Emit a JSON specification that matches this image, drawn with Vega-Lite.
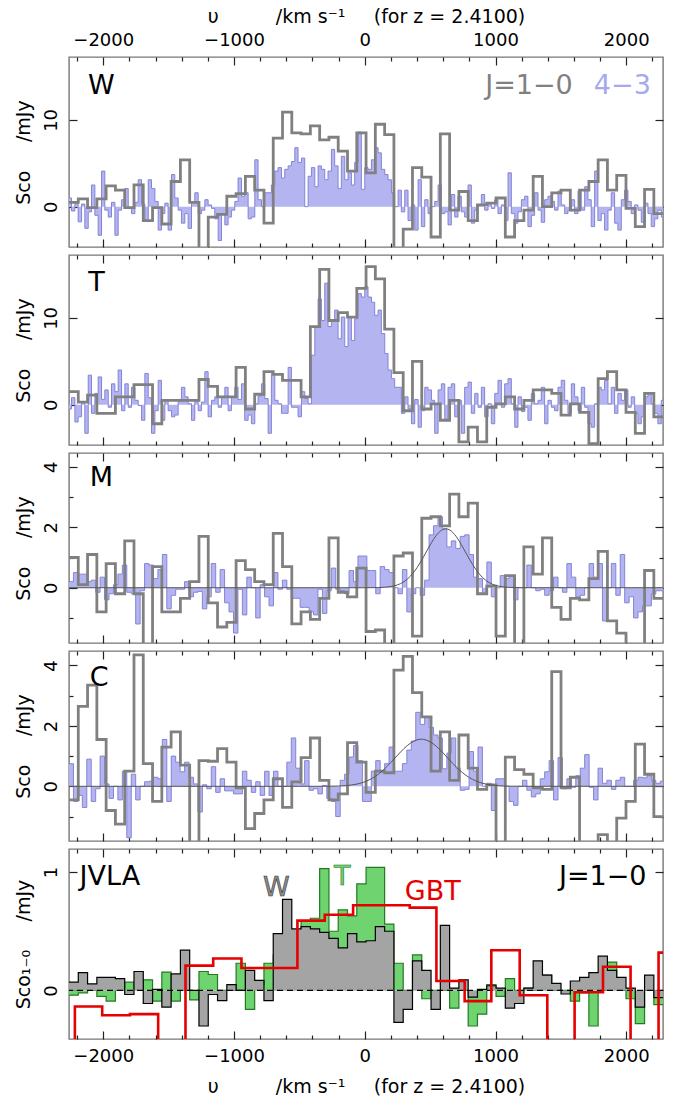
{
"$schema":"https://vega.github.io/schema/vega-lite/v6.json",
"padding":{"left":13,"top":6,"right":10,"bottom":2},
"config":{"view":{"stroke":"#777777","strokeWidth":1.4},"font":"DejaVu Sans","axis":{"domain":false,"grid":false,"tickColor":"#222222","tickWidth":1.2,"labelFont":"DejaVu Sans","labelFontSize":18,"labelColor":"#000000","titleFont":"DejaVu Sans","titleFontSize":19,"titleFontWeight":"normal","titleColor":"#000000","minExtent":0,"labelFlush":false,"labelOverlap":false,"zindex":1}},
"spacing":4,
"vconcat":[
{"width":594,"height":190,"resolve":{"axis":{"x":"independent","y":"independent"}},
"layer":[
{"data":{"name":"b1"},"mark":{"type":"area","interpolate":"step-after","color":"#b4b4f0","clip":true},
"encoding":{"x":{"field":"v","type":"quantitative","scale":{"domain":[-2262,2281],"nice":false,"zero":false},"axis":{"orient":"bottom","values":[-2000,-1000,0,1000,2000],"tickSize":-8,"labels":false,"title":null}},
"y":{"field":"W","type":"quantitative","scale":{"domain":[-4.65,17.25],"nice":false,"zero":false},"axis":{"orient":"left","values":[0,10],"tickSize":-8,"labelAngle":-90,"labelAlign":"center","labelBaseline":"bottom","labelPadding":17,"title":"Sᴄᴏ\u2003\u2002/mJy","titlePadding":9}},"y2":{"datum":0}}},
{"data":{"name":"b1"},"mark":{"type":"line","interpolate":"step-after","color":"#8484d6","strokeWidth":1,"clip":true},
"encoding":{"x":{"field":"v","type":"quantitative","scale":{"domain":[-2262,2281],"nice":false,"zero":false},"axis":{"orient":"top","values":[-2000,-1000,0,1000,2000],"tickSize":-8,"format":"d","labelPadding":16,"title":"υ\u2003\u2003\u2003/km s⁻¹\u2003\u2002(for z = 2.4100)","titlePadding":5}},
"y":{"field":"W","type":"quantitative","scale":{"domain":[-4.65,17.25],"nice":false,"zero":false},"axis":{"orient":"right","values":[0,10],"tickSize":-8,"labels":false,"title":null}}}},
{"data":{"name":"g"},"mark":{"type":"line","interpolate":"step-after","color":"#808080","strokeWidth":2.8,"clip":true},
"encoding":{"x":{"field":"v","type":"quantitative","scale":{"domain":[-2262,2281],"nice":false,"zero":false},"axis":{"orient":"bottom","values":[-2200,-1800,-1600,-1400,-1200,-800,-600,-400,-200,200,400,600,800,1200,1400,1600,1800,2200],"tickSize":-4,"labels":false,"title":null}},
"y":{"field":"W","type":"quantitative","scale":{"domain":[-4.65,17.25],"nice":false,"zero":false},"axis":null}}},
{"data":{"values":[{}]},"mark":{"type":"text","align":"left","baseline":"alphabetic","fontSize":27,"color":"#000000"},
"encoding":{"x":{"datum":-2116,"type":"quantitative","scale":{"domain":[-2262,2281],"nice":false,"zero":false},"axis":{"orient":"top","values":[-2200,-1800,-1600,-1400,-1200,-800,-600,-400,-200,200,400,600,800,1200,1400,1600,1800,2200],"tickSize":-4,"labels":false,"title":null}},
"y":{"datum":13.0,"type":"quantitative","scale":{"domain":[-4.65,17.25],"nice":false,"zero":false},"axis":null},"text":{"value":"W"}}},
{"data":{"values":[{}]},"mark":{"type":"text","align":"right","baseline":"alphabetic","fontSize":27,"color":"#808080"},
"encoding":{"x":{"datum":1591,"type":"quantitative","axis":null},"y":{"datum":13.0,"type":"quantitative","axis":null},"text":{"value":"J=1−0"}}},
{"data":{"values":[{}]},"mark":{"type":"text","align":"left","baseline":"alphabetic","fontSize":27,"color":"#a8a8f0"},
"encoding":{"x":{"datum":1752,"type":"quantitative","axis":null},"y":{"datum":13.0,"type":"quantitative","axis":null},"text":{"value":"4−3"}}}
]},
{"width":594,"height":190,"resolve":{"axis":{"x":"independent","y":"independent"}},
"layer":[
{"data":{"name":"b1"},"mark":{"type":"area","interpolate":"step-after","color":"#b4b4f0","clip":true},
"encoding":{"x":{"field":"v","type":"quantitative","scale":{"domain":[-2262,2281],"nice":false,"zero":false},"axis":{"orient":"bottom","values":[-2000,-1000,0,1000,2000],"tickSize":-8,"labels":false,"title":null}},
"y":{"field":"T","type":"quantitative","scale":{"domain":[-4.65,17.25],"nice":false,"zero":false},"axis":{"orient":"left","values":[0,10],"tickSize":-8,"labelAngle":-90,"labelAlign":"center","labelBaseline":"bottom","labelPadding":17,"title":"Sᴄᴏ\u2003\u2002/mJy","titlePadding":9}},"y2":{"datum":0}}},
{"data":{"name":"b1"},"mark":{"type":"line","interpolate":"step-after","color":"#8484d6","strokeWidth":1,"clip":true},
"encoding":{"x":{"field":"v","type":"quantitative","scale":{"domain":[-2262,2281],"nice":false,"zero":false},"axis":{"orient":"top","values":[-2000,-1000,0,1000,2000],"tickSize":-8,"labels":false,"title":null}},
"y":{"field":"T","type":"quantitative","scale":{"domain":[-4.65,17.25],"nice":false,"zero":false},"axis":{"orient":"right","values":[0,10],"tickSize":-8,"labels":false,"title":null}}}},
{"data":{"name":"g"},"mark":{"type":"line","interpolate":"step-after","color":"#808080","strokeWidth":2.8,"clip":true},
"encoding":{"x":{"field":"v","type":"quantitative","scale":{"domain":[-2262,2281],"nice":false,"zero":false},"axis":{"orient":"bottom","values":[-2200,-1800,-1600,-1400,-1200,-800,-600,-400,-200,200,400,600,800,1200,1400,1600,1800,2200],"tickSize":-4,"labels":false,"title":null}},
"y":{"field":"T","type":"quantitative","scale":{"domain":[-4.65,17.25],"nice":false,"zero":false},"axis":null}}},
{"data":{"values":[{}]},"mark":{"type":"text","align":"left","baseline":"alphabetic","fontSize":27,"color":"#000000"},
"encoding":{"x":{"datum":-2114,"type":"quantitative","scale":{"domain":[-2262,2281],"nice":false,"zero":false},"axis":{"orient":"top","values":[-2200,-1800,-1600,-1400,-1200,-800,-600,-400,-200,200,400,600,800,1200,1400,1600,1800,2200],"tickSize":-4,"labels":false,"title":null}},
"y":{"datum":13.15,"type":"quantitative","scale":{"domain":[-4.65,17.25],"nice":false,"zero":false},"axis":null},"text":{"value":"T"}}}
]},
{"width":594,"height":190,"resolve":{"axis":{"x":"independent","y":"independent"}},
"layer":[
{"data":{"name":"b2"},"mark":{"type":"area","interpolate":"step-after","color":"#b4b4f0","clip":true},
"encoding":{"x":{"field":"v","type":"quantitative","scale":{"domain":[-2262,2281],"nice":false,"zero":false},"axis":{"orient":"bottom","values":[-2000,-1000,0,1000,2000],"tickSize":-8,"labels":false,"title":null}},
"y":{"field":"M","type":"quantitative","scale":{"domain":[-1.83,4.46],"nice":false,"zero":false},"axis":{"orient":"left","values":[0,2,4],"tickSize":-8,"labelAngle":-90,"labelAlign":"center","labelBaseline":"bottom","labelPadding":17,"title":"Sᴄᴏ\u2003\u2002/mJy","titlePadding":9}},"y2":{"datum":0}}},
{"data":{"name":"b2"},"mark":{"type":"line","interpolate":"step-after","color":"#8484d6","strokeWidth":1,"clip":true},
"encoding":{"x":{"field":"v","type":"quantitative","scale":{"domain":[-2262,2281],"nice":false,"zero":false},"axis":{"orient":"top","values":[-2000,-1000,0,1000,2000],"tickSize":-8,"labels":false,"title":null}},
"y":{"field":"M","type":"quantitative","scale":{"domain":[-1.83,4.46],"nice":false,"zero":false},"axis":{"orient":"right","values":[0,2,4],"tickSize":-8,"labels":false,"title":null}}}},
{"data":{"name":"g"},"mark":{"type":"line","interpolate":"step-after","color":"#808080","strokeWidth":2.8,"clip":true},
"encoding":{"x":{"field":"v","type":"quantitative","scale":{"domain":[-2262,2281],"nice":false,"zero":false},"axis":{"orient":"bottom","values":[-2200,-1800,-1600,-1400,-1200,-800,-600,-400,-200,200,400,600,800,1200,1400,1600,1800,2200],"tickSize":-4,"labels":false,"title":null}},
"y":{"field":"M","type":"quantitative","scale":{"domain":[-1.83,4.46],"nice":false,"zero":false},"axis":{"orient":"left","values":[-1,1,3],"tickSize":-4,"labels":false,"title":null}}}},
{"data":{"name":"gm"},"mark":{"type":"line","interpolate":"monotone","color":"#555555","strokeWidth":1,"clip":true},
"encoding":{"x":{"field":"v","type":"quantitative","scale":{"domain":[-2262,2281],"nice":false,"zero":false},"axis":{"orient":"top","values":[-2200,-1800,-1600,-1400,-1200,-800,-600,-400,-200,200,400,600,800,1200,1400,1600,1800,2200],"tickSize":-4,"labels":false,"title":null}},
"y":{"field":"y","type":"quantitative","scale":{"domain":[-1.83,4.46],"nice":false,"zero":false},"axis":{"orient":"right","values":[-1,1,3],"tickSize":-4,"labels":false,"title":null}}}},
{"data":{"values":[{}]},"mark":{"type":"text","align":"left","baseline":"alphabetic","fontSize":27,"color":"#000000"},
"encoding":{"x":{"datum":-2104,"type":"quantitative","axis":null},"y":{"datum":3.37,"type":"quantitative","axis":null},"text":{"value":"M"}}}
]},
{"width":594,"height":190,"resolve":{"axis":{"x":"independent","y":"independent"}},
"layer":[
{"data":{"name":"b2"},"mark":{"type":"area","interpolate":"step-after","color":"#b4b4f0","clip":true},
"encoding":{"x":{"field":"v","type":"quantitative","scale":{"domain":[-2262,2281],"nice":false,"zero":false},"axis":{"orient":"bottom","values":[-2000,-1000,0,1000,2000],"tickSize":-8,"labels":false,"title":null}},
"y":{"field":"C","type":"quantitative","scale":{"domain":[-1.81,4.48],"nice":false,"zero":false},"axis":{"orient":"left","values":[0,2,4],"tickSize":-8,"labelAngle":-90,"labelAlign":"center","labelBaseline":"bottom","labelPadding":17,"title":"Sᴄᴏ\u2003\u2002/mJy","titlePadding":9}},"y2":{"datum":0}}},
{"data":{"name":"b2"},"mark":{"type":"line","interpolate":"step-after","color":"#8484d6","strokeWidth":1,"clip":true},
"encoding":{"x":{"field":"v","type":"quantitative","scale":{"domain":[-2262,2281],"nice":false,"zero":false},"axis":{"orient":"top","values":[-2000,-1000,0,1000,2000],"tickSize":-8,"labels":false,"title":null}},
"y":{"field":"C","type":"quantitative","scale":{"domain":[-1.81,4.48],"nice":false,"zero":false},"axis":{"orient":"right","values":[0,2,4],"tickSize":-8,"labels":false,"title":null}}}},
{"data":{"name":"g"},"mark":{"type":"line","interpolate":"step-after","color":"#808080","strokeWidth":2.8,"clip":true},
"encoding":{"x":{"field":"v","type":"quantitative","scale":{"domain":[-2262,2281],"nice":false,"zero":false},"axis":{"orient":"bottom","values":[-2200,-1800,-1600,-1400,-1200,-800,-600,-400,-200,200,400,600,800,1200,1400,1600,1800,2200],"tickSize":-4,"labels":false,"title":null}},
"y":{"field":"C","type":"quantitative","scale":{"domain":[-1.81,4.48],"nice":false,"zero":false},"axis":{"orient":"left","values":[-1,1,3],"tickSize":-4,"labels":false,"title":null}}}},
{"data":{"name":"gc"},"mark":{"type":"line","interpolate":"monotone","color":"#555555","strokeWidth":1,"clip":true},
"encoding":{"x":{"field":"v","type":"quantitative","scale":{"domain":[-2262,2281],"nice":false,"zero":false},"axis":{"orient":"top","values":[-2200,-1800,-1600,-1400,-1200,-800,-600,-400,-200,200,400,600,800,1200,1400,1600,1800,2200],"tickSize":-4,"labels":false,"title":null}},
"y":{"field":"y","type":"quantitative","scale":{"domain":[-1.81,4.48],"nice":false,"zero":false},"axis":{"orient":"right","values":[-1,1,3],"tickSize":-4,"labels":false,"title":null}}}},
{"data":{"values":[{}]},"mark":{"type":"text","align":"left","baseline":"alphabetic","fontSize":27,"color":"#000000"},
"encoding":{"x":{"datum":-2104,"type":"quantitative","axis":null},"y":{"datum":3.32,"type":"quantitative","axis":null},"text":{"value":"C"}}}
]},
{"width":594,"height":190,"resolve":{"axis":{"x":"independent","y":"independent"}},
"layer":[
{"data":{"name":"g"},"mark":{"type":"area","interpolate":"step-after","color":"#6fd46f","clip":true},
"encoding":{"x":{"field":"v","type":"quantitative","scale":{"domain":[-2262,2281],"nice":false,"zero":false},"axis":{"orient":"bottom","values":[-2000,-1000,0,1000,2000],"tickSize":-8,"format":"d","labelPadding":16,"title":"υ\u2003\u2003\u2003/km s⁻¹\u2003\u2002(for z = 2.4100)","titlePadding":12}},
"y":{"field":"G","type":"quantitative","scale":{"domain":[-0.41,1.195],"nice":false,"zero":false},"axis":{"orient":"left","values":[0,1],"tickSize":-8,"labelAngle":-90,"labelAlign":"center","labelBaseline":"bottom","labelPadding":17,"title":"Sᴄᴏ₁₋₀\u2003\u2002/mJy","titlePadding":9}},"y2":{"datum":0}}},
{"data":{"name":"g"},"mark":{"type":"line","interpolate":"step-after","color":"#237a23","strokeWidth":1.2,"clip":true},
"encoding":{"x":{"field":"v","type":"quantitative","scale":{"domain":[-2262,2281],"nice":false,"zero":false},"axis":{"orient":"top","values":[-2000,-1000,0,1000,2000],"tickSize":-8,"labels":false,"title":null}},
"y":{"field":"G","type":"quantitative","scale":{"domain":[-0.41,1.195],"nice":false,"zero":false},"axis":{"orient":"right","values":[0,1],"tickSize":-8,"labels":false,"title":null}}}},
{"data":{"name":"g"},"mark":{"type":"area","interpolate":"step-after","color":"#a4a4a4","clip":true},
"encoding":{"x":{"field":"v","type":"quantitative","scale":{"domain":[-2262,2281],"nice":false,"zero":false},"axis":{"orient":"bottom","values":[-2200,-1800,-1600,-1400,-1200,-800,-600,-400,-200,200,400,600,800,1200,1400,1600,1800,2200],"tickSize":-4,"labels":false,"title":null}},
"y":{"field":"J","type":"quantitative","scale":{"domain":[-0.41,1.195],"nice":false,"zero":false},"axis":null},"y2":{"datum":0}}},
{"data":{"name":"g"},"mark":{"type":"line","interpolate":"step-after","color":"#000000","strokeWidth":1.2,"clip":true},
"encoding":{"x":{"field":"v","type":"quantitative","scale":{"domain":[-2262,2281],"nice":false,"zero":false},"axis":{"orient":"top","values":[-2200,-1800,-1600,-1400,-1200,-800,-600,-400,-200,200,400,600,800,1200,1400,1600,1800,2200],"tickSize":-4,"labels":false,"title":null}},
"y":{"field":"J","type":"quantitative","scale":{"domain":[-0.41,1.195],"nice":false,"zero":false},"axis":null}}},
{"data":{"values":[{}]},"mark":{"type":"rule","color":"#000000","strokeWidth":1.2,"strokeDash":[6,4]},
"encoding":{"y":{"datum":0,"type":"quantitative","axis":null}}},
{"data":{"name":"r"},"mark":{"type":"line","interpolate":"step-after","color":"#e60000","strokeWidth":2.6,"clip":true},
"encoding":{"x":{"field":"v","type":"quantitative","axis":null},"y":{"field":"R","type":"quantitative","axis":null}}},
{"data":{"values":[{}]},"mark":{"type":"text","align":"left","baseline":"alphabetic","fontSize":27,"color":"#000000"},
"encoding":{"x":{"datum":-2181,"type":"quantitative","axis":null},"y":{"datum":0.888,"type":"quantitative","axis":null},"text":{"value":"JVLA"}}},
{"data":{"values":[{}]},"mark":{"type":"text","align":"center","baseline":"alphabetic","fontSize":27,"color":"#8c8c8c","stroke":"#333333","strokeWidth":0.6},
"encoding":{"x":{"datum":-676,"type":"quantitative","axis":null},"y":{"datum":0.8,"type":"quantitative","axis":null},"text":{"value":"W"}}},
{"data":{"values":[{}]},"mark":{"type":"text","align":"center","baseline":"alphabetic","fontSize":27,"color":"#6fd46f","stroke":"#1e6e1e","strokeWidth":0.6},
"encoding":{"x":{"datum":-173,"type":"quantitative","axis":null},"y":{"datum":0.888,"type":"quantitative","axis":null},"text":{"value":"T"}}},
{"data":{"values":[{}]},"mark":{"type":"text","align":"left","baseline":"alphabetic","fontSize":27,"color":"#e60000"},
"encoding":{"x":{"datum":306,"type":"quantitative","axis":null},"y":{"datum":0.767,"type":"quantitative","axis":null},"text":{"value":"GBT"}}},
{"data":{"values":[{}]},"mark":{"type":"text","align":"right","baseline":"alphabetic","fontSize":27,"color":"#000000"},
"encoding":{"x":{"datum":2155,"type":"quantitative","axis":null},"y":{"datum":0.888,"type":"quantitative","axis":null},"text":{"value":"J=1−0"}}}
]}
],
"datasets":{
"g":[
{"v":-2262,"W":0.5,"T":1.5,"M":1.0,"C":-0.45,"J":0.07,"G":-0.04},
{"v":-2191,"W":0.9,"T":0.3,"M":0.1,"C":2.65,"J":0.15,"G":-0.02},
{"v":-2120,"W":-0.1,"T":1.1,"M":1.1,"C":3.35,"J":0.056,"G":0.0},
{"v":-2049,"W":0.9,"T":-1.0,"M":-0.8,"C":1.55,"J":0.11,"G":-0.05},
{"v":-1978,"W":2.4,"T":-1.0,"M":0.8,"C":-0.8,"J":0.11,"G":-0.09},
{"v":-1907,"W":1.9,"T":0.9,"M":-0.2,"C":-1.25,"J":0.1,"G":0.0},
{"v":-1836,"W":-0.1,"T":0.9,"M":1.55,"C":0.5,"J":-0.034,"G":0.07},
{"v":-1765,"W":2.5,"T":2.3,"M":-0.2,"C":4.35,"J":0.16,"G":0.02},
{"v":-1694,"W":-1.6,"T":2.3,"M":-2.2,"C":0.75,"J":-0.11,"G":0.09},
{"v":-1623,"W":-0.1,"T":-2.2,"M":0.7,"C":-0.5,"J":0.01,"G":-0.09},
{"v":-1552,"W":-2.0,"T":0.5,"M":-0.8,"C":1.3,"J":-0.14,"G":0.155},
{"v":-1481,"W":2.9,"T":0.5,"M":-0.8,"C":1.8,"J":0.14,"G":-0.09},
{"v":-1410,"W":5.4,"T":0.5,"M":-0.35,"C":0.7,"J":0.34,"G":0.0},
{"v":-1339,"W":0.5,"T":0.5,"M":0.2,"C":-2.2,"J":0.0,"G":-0.08},
{"v":-1268,"W":-5.5,"T":2.9,"M":1.7,"C":0.85,"J":-0.3,"G":0.16},
{"v":-1197,"W":-1.2,"T":2.1,"M":-0.5,"C":0.83,"J":-0.034,"G":0.135},
{"v":-1126,"W":-0.9,"T":0.9,"M":-1.3,"C":1.25,"J":-0.085,"G":0.0},
{"v":-1055,"W":1.2,"T":0.9,"M":-1.15,"C":0.8,"J":0.05,"G":0.0},
{"v":-984,"W":1.5,"T":4.3,"M":0.9,"C":-0.05,"J":0.0,"G":0.23},
{"v":-913,"W":3.5,"T":-0.5,"M":0.6,"C":-1.4,"J":0.17,"G":-0.16},
{"v":-842,"W":1.9,"T":1.2,"M":0.2,"C":-0.9,"J":0.085,"G":0.05},
{"v":-771,"W":-1.9,"T":3.8,"M":0.1,"C":-0.45,"J":-0.085,"G":0.23},
{"v":-700,"W":7.9,"T":3.5,"M":1.8,"C":0.25,"J":0.48,"G":0.3},
{"v":-629,"W":10.9,"T":2.8,"M":0.7,"C":-0.7,"J":0.77,"G":0.35},
{"v":-558,"W":8.5,"T":2.8,"M":-1.2,"C":0.15,"J":0.52,"G":0.45},
{"v":-487,"W":8.4,"T":0.9,"M":-0.8,"C":0.95,"J":0.54,"G":0.59},
{"v":-416,"W":9.3,"T":9.0,"M":-1.05,"C":1.6,"J":0.52,"G":0.61},
{"v":-345,"W":7.7,"T":15.6,"M":-0.35,"C":0.2,"J":0.49,"G":1.03},
{"v":-274,"W":8.0,"T":9.7,"M":1.65,"C":-0.45,"J":0.44,"G":0.5},
{"v":-203,"W":6.4,"T":10.6,"M":-0.15,"C":-0.25,"J":0.36,"G":0.68},
{"v":-132,"W":4.1,"T":10.1,"M":-0.3,"C":1.45,"J":0.48,"G":0.63},
{"v":-61,"W":8.5,"T":13.4,"M":0.65,"C":0.8,"J":0.41,"G":0.9},
{"v":10,"W":3.9,"T":15.9,"M":-1.45,"C":-0.2,"J":0.42,"G":1.04},
{"v":81,"W":9.5,"T":14.5,"M":-1.4,"C":0.5,"J":0.54,"G":1.04},
{"v":152,"W":8.3,"T":8.7,"M":-2.2,"C":0.45,"J":0.5,"G":0.56},
{"v":223,"W":-5.5,"T":3.7,"M":1.05,"C":3.85,"J":-0.27,"G":0.23},
{"v":294,"W":-2.6,"T":-0.7,"M":1.15,"C":4.3,"J":-0.16,"G":0.0},
{"v":365,"W":4.5,"T":5.0,"M":-1.6,"C":3.1,"J":0.25,"G":0.3},
{"v":436,"W":3.4,"T":-0.5,"M":2.3,"C":2.3,"J":0.17,"G":-0.07},
{"v":507,"W":-3.5,"T":0.1,"M":2.35,"C":0.5,"J":-0.16,"G":0.0},
{"v":578,"W":8.4,"T":-1.8,"M":2.05,"C":1.8,"J":0.55,"G":0.0},
{"v":649,"W":-0.4,"T":0.5,"M":3.1,"C":0.2,"J":0.02,"G":-0.15},
{"v":720,"W":1.75,"T":-4.3,"M":2.35,"C":1.7,"J":0.09,"G":0.0},
{"v":791,"W":-1.6,"T":-2.6,"M":2.8,"C":0.6,"J":-0.056,"G":-0.3},
{"v":862,"W":0.2,"T":-4.3,"M":-0.2,"C":-0.1,"J":0.01,"G":-0.2},
{"v":933,"W":0.4,"T":-0.3,"M":0.05,"C":0.05,"J":0.04,"G":0.05},
{"v":1004,"W":1.0,"T":0.1,"M":-1.6,"C":-2.2,"J":0.02,"G":-0.05},
{"v":1075,"W":-3.5,"T":0.9,"M":0.4,"C":0.97,"J":-0.15,"G":0.1},
{"v":1146,"W":-1.6,"T":-0.5,"M":-2.2,"C":0.55,"J":-0.11,"G":0.0},
{"v":1217,"W":-0.4,"T":0.5,"M":1.35,"C":0.4,"J":0.02,"G":0.02},
{"v":1288,"W":3.5,"T":1.7,"M":0.45,"C":-0.05,"J":0.25,"G":0.0},
{"v":1359,"W":0.0,"T":1.7,"M":1.65,"C":-0.1,"J":0.13,"G":0.13},
{"v":1430,"W":1.6,"T":1.3,"M":-0.65,"C":3.8,"J":0.06,"G":0.0},
{"v":1501,"W":1.9,"T":-1.2,"M":-1.05,"C":-0.05,"J":-0.03,"G":0.0},
{"v":1572,"W":-0.4,"T":0.1,"M":-0.35,"C":0.3,"J":0.08,"G":-0.09},
{"v":1643,"W":1.9,"T":-0.9,"M":-0.4,"C":-2.2,"J":0.11,"G":-0.02},
{"v":1714,"W":2.9,"T":-4.5,"M":0.3,"C":-2.2,"J":0.15,"G":-0.3},
{"v":1785,"W":5.4,"T":3.0,"M":1.2,"C":-1.6,"J":0.29,"G":0.0},
{"v":1856,"W":1.9,"T":3.8,"M":-1.1,"C":-2.2,"J":0.17,"G":0.24},
{"v":1927,"W":3.6,"T":1.7,"M":-1.5,"C":-1.05,"J":0.11,"G":0.0},
{"v":1998,"W":-0.2,"T":-0.9,"M":-2.2,"C":-0.5,"J":0.02,"G":-0.07},
{"v":2069,"W":-2.3,"T":-3.3,"M":-2.2,"C":1.4,"J":-0.14,"G":-0.28},
{"v":2140,"W":2.0,"T":1.3,"M":0.57,"C":0.4,"J":0.13,"G":0.0},
{"v":2211,"W":-0.8,"T":-1.4,"M":-0.35,"C":-1.0,"J":-0.06,"G":-0.12},
{"v":2282,"W":-0.8,"T":-1.4,"M":-0.35,"C":-1.0,"J":-0.06,"G":-0.12}
],
"b1":[
{"v":-2268,"W":1.0,"T":-0.5},{"v":-2243,"W":-0.5,"T":0.8},{"v":-2217,"W":0.4,"T":-2.0},{"v":-2192,"W":-1.75,"T":-1.4},{"v":-2166,"W":0.3,"T":0.3},
{"v":-2141,"W":-2.5,"T":-3.3},{"v":-2115,"W":-0.6,"T":3.4},{"v":-2090,"W":2.5,"T":-1.0},{"v":-2064,"W":-1.0,"T":1.3},{"v":-2039,"W":-3.3,"T":3.2},
{"v":-2013,"W":4.1,"T":0.6},{"v":-1988,"W":-0.4,"T":1.7},{"v":-1962,"W":-1.2,"T":-0.3},{"v":-1937,"W":0.5,"T":2.4},{"v":-1911,"W":-3.3,"T":1.5},
{"v":-1886,"W":-0.4,"T":4.0},{"v":-1860,"W":0.8,"T":-0.7},{"v":-1835,"W":2.1,"T":2.4},{"v":-1809,"W":-0.2,"T":-0.3},{"v":-1784,"W":-0.8,"T":2.0},
{"v":-1758,"W":0.5,"T":0.5},{"v":-1733,"W":3.1,"T":-0.1},{"v":-1707,"W":0.3,"T":-1.8},{"v":-1682,"W":-1.6,"T":3.6},{"v":-1656,"W":3.1,"T":0.8},
{"v":-1631,"W":2.1,"T":-3.3},{"v":-1605,"W":0.6,"T":-0.7},{"v":-1580,"W":-2.7,"T":2.8},{"v":-1555,"W":-0.8,"T":-1.8},{"v":-1529,"W":0.4,"T":0.5},
{"v":-1504,"W":-2.7,"T":-0.7},{"v":-1478,"W":3.7,"T":-1.4},{"v":-1453,"W":1.0,"T":-1.2},{"v":-1427,"W":-0.4,"T":0.6},{"v":-1402,"W":-1.9,"T":2.0},
{"v":-1376,"W":-0.8,"T":0.9},{"v":-1351,"W":-2.5,"T":0.1},{"v":-1325,"W":0.5,"T":-1.8},{"v":-1300,"W":1.6,"T":0.4},{"v":-1274,"W":-0.8,"T":-0.7},
{"v":-1249,"W":-0.4,"T":0.3},{"v":-1223,"W":0.8,"T":3.8},{"v":-1198,"W":0.2,"T":-1.4},{"v":-1172,"W":-0.2,"T":0.5},{"v":-1147,"W":-1.4,"T":0.9},
{"v":-1121,"W":-3.9,"T":-0.3},{"v":-1096,"W":-0.8,"T":0.9},{"v":-1070,"W":-2.1,"T":2.0},{"v":-1045,"W":-1.2,"T":-0.7},{"v":-1020,"W":-0.4,"T":0.9},
{"v":-994,"W":0.6,"T":2.0},{"v":-969,"W":3.3,"T":0.6},{"v":-943,"W":1.2,"T":2.4},{"v":-918,"W":1.6,"T":-1.8},{"v":-892,"W":-1.4,"T":-1.2},
{"v":-867,"W":-1.2,"T":-2.2},{"v":-841,"W":5.4,"T":0.1},{"v":-816,"W":0.8,"T":1.0},{"v":-790,"W":0.0,"T":2.4},{"v":-765,"W":1.6,"T":0.7},
{"v":-739,"W":1.6,"T":-3.3},{"v":-714,"W":2.5,"T":3.6},{"v":-688,"W":4.1,"T":0.5},{"v":-663,"W":4.5,"T":0.1},{"v":-637,"W":3.3,"T":-1.0},
{"v":-612,"W":4.3,"T":-1.0},{"v":-586,"W":4.7,"T":4.3},{"v":-561,"W":5.2,"T":-0.3},{"v":-535,"W":6.8,"T":-0.3},{"v":-510,"W":5.1,"T":-1.4},
{"v":-484,"W":5.6,"T":1.5},{"v":-459,"W":0.0,"T":0.7},{"v":-433,"W":3.5,"T":0.1},{"v":-408,"W":4.5,"T":5.7},{"v":-382,"W":2.3,"T":9.0},
{"v":-357,"W":4.7,"T":12.2},{"v":-332,"W":4.3,"T":9.7},{"v":-306,"W":3.1,"T":14.0},{"v":-281,"W":4.1,"T":9.0},{"v":-255,"W":6.6,"T":9.7},
{"v":-230,"W":4.7,"T":10.9},{"v":-204,"W":2.1,"T":7.6},{"v":-179,"W":5.8,"T":10.1},{"v":-153,"W":3.1,"T":6.7},{"v":-128,"W":3.9,"T":10.1},
{"v":-102,"W":2.5,"T":7.4},{"v":-77,"W":5.1,"T":9.9},{"v":-51,"W":8.6,"T":12.8},{"v":-26,"W":2.0,"T":12.4},{"v":0,"W":4.5,"T":13.6},
{"v":25,"W":4.3,"T":12.4},{"v":51,"W":5.4,"T":11.8},{"v":76,"W":6.8,"T":10.3},{"v":102,"W":6.2,"T":10.9},{"v":127,"W":4.3,"T":8.2},
{"v":153,"W":3.7,"T":5.9},{"v":178,"W":3.1,"T":4.0},{"v":204,"W":1.6,"T":3.0},{"v":229,"W":0.0,"T":2.0},{"v":255,"W":1.9,"T":2.0},
{"v":280,"W":-0.6,"T":-1.0},{"v":306,"W":1.9,"T":0.9},{"v":331,"W":-1.6,"T":-0.5},{"v":357,"W":0.2,"T":-2.2},{"v":382,"W":-2.7,"T":0.6},
{"v":408,"W":3.1,"T":-2.6},{"v":433,"W":-2.3,"T":-0.7},{"v":459,"W":0.8,"T":2.0},{"v":484,"W":-0.8,"T":1.7},{"v":510,"W":0.0,"T":0.5},
{"v":535,"W":0.6,"T":-3.3},{"v":561,"W":2.5,"T":1.7},{"v":586,"W":-0.8,"T":2.4},{"v":612,"W":-0.6,"T":-1.8},{"v":637,"W":-2.1,"T":2.0},
{"v":662,"W":1.4,"T":2.4},{"v":688,"W":-1.2,"T":-1.4},{"v":713,"W":1.2,"T":0.5},{"v":739,"W":-0.6,"T":-3.3},{"v":764,"W":-1.2,"T":2.0},
{"v":790,"W":2.5,"T":2.6},{"v":815,"W":-1.9,"T":-1.0},{"v":841,"W":-0.4,"T":1.3},{"v":866,"W":0.2,"T":-0.3},{"v":892,"W":1.4,"T":2.0},
{"v":917,"W":-0.4,"T":-1.4},{"v":943,"W":0.4,"T":0.1},{"v":968,"W":-0.2,"T":-2.2},{"v":994,"W":0.8,"T":1.3},{"v":1019,"W":-0.8,"T":2.8},
{"v":1045,"W":0.2,"T":-0.3},{"v":1070,"W":-1.6,"T":2.4},{"v":1096,"W":3.9,"T":3.0},{"v":1121,"W":-0.8,"T":0.1},{"v":1147,"W":-1.9,"T":-2.6},
{"v":1172,"W":-0.6,"T":0.9},{"v":1198,"W":0.8,"T":-0.8},{"v":1223,"W":1.2,"T":-0.3},{"v":1248,"W":-2.3,"T":-1.8},{"v":1274,"W":-1.0,"T":1.3},
{"v":1299,"W":1.6,"T":0.1},{"v":1325,"W":-0.4,"T":0.5},{"v":1350,"W":-1.8,"T":2.0},{"v":1376,"W":0.8,"T":-2.2},{"v":1401,"W":1.2,"T":0.5},
{"v":1427,"W":0.6,"T":-0.3},{"v":1452,"W":-0.4,"T":-0.7},{"v":1478,"W":1.8,"T":2.0},{"v":1503,"W":0.2,"T":2.8},{"v":1529,"W":-0.8,"T":0.5},
{"v":1554,"W":-0.4,"T":-1.0},{"v":1580,"W":0.8,"T":2.4},{"v":1605,"W":-0.8,"T":0.9},{"v":1631,"W":1.8,"T":-0.7},{"v":1656,"W":-0.4,"T":2.0},
{"v":1682,"W":2.3,"T":-0.3},{"v":1707,"W":0.8,"T":-2.2},{"v":1732,"W":-2.3,"T":-2.6},{"v":1758,"W":4.1,"T":0.1},{"v":1783,"W":-1.6,"T":2.0},
{"v":1809,"W":-0.8,"T":1.7},{"v":1834,"W":-2.7,"T":2.8},{"v":1860,"W":-0.4,"T":0.1},{"v":1885,"W":1.6,"T":2.0},{"v":1911,"W":-1.9,"T":-1.0},
{"v":1936,"W":-2.7,"T":1.3},{"v":1962,"W":0.8,"T":0.5},{"v":1987,"W":1.9,"T":1.7},{"v":2013,"W":0.6,"T":-0.3},{"v":2038,"W":-0.8,"T":0.9},
{"v":2064,"W":0.2,"T":-1.0},{"v":2089,"W":-0.4,"T":-2.2},{"v":2115,"W":-1.8,"T":-1.4},{"v":2140,"W":0.4,"T":0.9},{"v":2166,"W":-0.8,"T":1.3},
{"v":2191,"W":-2.3,"T":0.1},{"v":2217,"W":-1.4,"T":-1.0},{"v":2242,"W":-0.4,"T":-2.2},{"v":2268,"W":-1.2,"T":0.5},{"v":2293,"W":-1.2,"T":0.5}
],
"b2":[
{"v":-2262,"M":0.2,"C":0.75},{"v":-2228,"M":0.5,"C":-0.5},{"v":-2194,"M":0.45,"C":-0.3},{"v":-2160,"M":0.45,"C":-0.7},{"v":-2126,"M":0.2,"C":0.9},
{"v":-2092,"M":0.25,"C":-0.5},{"v":-2058,"M":-0.15,"C":-0.08},{"v":-2024,"M":0.35,"C":1.0},{"v":-1990,"M":-0.4,"C":0.08},{"v":-1956,"M":-0.2,"C":-0.4},
{"v":-1922,"M":0.1,"C":0.0},{"v":-1888,"M":0.45,"C":-0.45},{"v":-1854,"M":0.75,"C":0.5},{"v":-1820,"M":-0.15,"C":-1.7},{"v":-1786,"M":-0.2,"C":0.4},
{"v":-1752,"M":-1.2,"C":-0.45},{"v":-1718,"M":-0.1,"C":0.0},{"v":-1684,"M":0.8,"C":0.15},{"v":-1650,"M":0.75,"C":0.17},{"v":-1616,"M":0.3,"C":0.3},
{"v":-1582,"M":0.6,"C":0.25},{"v":-1548,"M":1.1,"C":1.55},{"v":-1514,"M":-0.7,"C":-0.5},{"v":-1480,"M":-0.25,"C":1.0},{"v":-1446,"M":-0.05,"C":0.8},
{"v":-1412,"M":-0.05,"C":0.48},{"v":-1378,"M":0.2,"C":0.8},{"v":-1344,"M":-0.3,"C":0.3},{"v":-1310,"M":-0.15,"C":0.08},{"v":-1276,"M":-0.12,"C":-0.85},
{"v":-1242,"M":-0.7,"C":0.05},{"v":-1208,"M":-0.3,"C":-0.08},{"v":-1174,"M":0.8,"C":0.65},{"v":-1140,"M":-0.15,"C":-0.2},{"v":-1106,"M":0.6,"C":0.25},
{"v":-1072,"M":-0.5,"C":-0.15},{"v":-1038,"M":-0.8,"C":-0.15},{"v":-1004,"M":-1.5,"C":-0.25},{"v":-970,"M":-0.05,"C":-0.25},{"v":-936,"M":-0.9,"C":0.5},
{"v":-902,"M":0.35,"C":0.2},{"v":-868,"M":0.0,"C":-0.2},{"v":-834,"M":-1.0,"C":0.15},{"v":-800,"M":0.1,"C":-0.3},{"v":-766,"M":-0.3,"C":0.5},
{"v":-732,"M":-0.6,"C":-0.3},{"v":-698,"M":0.5,"C":0.5},{"v":-664,"M":-0.05,"C":0.0},{"v":-630,"M":0.25,"C":0.0},{"v":-596,"M":-0.05,"C":0.8},
{"v":-562,"M":-0.35,"C":1.6},{"v":-528,"M":-0.35,"C":0.6},{"v":-494,"M":-0.65,"C":0.08},{"v":-460,"M":-0.65,"C":0.85},{"v":-426,"M":-0.8,"C":-0.13},
{"v":-392,"M":-0.9,"C":-0.08},{"v":-358,"M":-0.05,"C":-0.25},{"v":-324,"M":-0.85,"C":0.03},{"v":-290,"M":-0.1,"C":-0.4},{"v":-256,"M":0.65,"C":-0.5},
{"v":-222,"M":-0.05,"C":-1.0},{"v":-188,"M":-0.1,"C":0.2},{"v":-154,"M":-0.2,"C":0.4},{"v":-120,"M":0.57,"C":0.97},{"v":-86,"M":0.2,"C":1.35},
{"v":-52,"M":1.05,"C":0.85},{"v":-18,"M":1.05,"C":-0.5},{"v":16,"M":0.57,"C":-0.5},{"v":50,"M":0.57,"C":0.5},{"v":84,"M":-0.2,"C":0.85},
{"v":118,"M":0.7,"C":0.47},{"v":152,"M":0.6,"C":0.75},{"v":186,"M":0.5,"C":1.3},{"v":220,"M":0.0,"C":0.5},{"v":254,"M":-0.2,"C":0.5},
{"v":288,"M":0.6,"C":0.75},{"v":322,"M":-0.8,"C":1.2},{"v":356,"M":-0.2,"C":1.5},{"v":390,"M":0.0,"C":2.45},{"v":424,"M":-0.25,"C":2.05},
{"v":458,"M":0.25,"C":2.3},{"v":492,"M":1.75,"C":1.95},{"v":526,"M":2.05,"C":1.7},{"v":560,"M":2.35,"C":1.6},{"v":594,"M":1.95,"C":0.58},
{"v":628,"M":1.35,"C":1.1},{"v":662,"M":1.55,"C":1.6},{"v":696,"M":1.3,"C":0.6},{"v":730,"M":1.7,"C":-0.13},{"v":764,"M":1.75,"C":-0.1},
{"v":798,"M":1.1,"C":1.15},{"v":832,"M":0.35,"C":0.5},{"v":866,"M":0.3,"C":1.3},{"v":900,"M":-0.2,"C":0.0},{"v":934,"M":0.85,"C":0.1},
{"v":968,"M":-0.3,"C":-0.8},{"v":1002,"M":0.0,"C":0.25},{"v":1036,"M":0.4,"C":0.25},{"v":1070,"M":0.3,"C":0.0},{"v":1104,"M":0.4,"C":-0.5},
{"v":1138,"M":-0.4,"C":-0.63},{"v":1172,"M":0.0,"C":0.0},{"v":1206,"M":0.0,"C":0.2},{"v":1240,"M":0.75,"C":-0.13},{"v":1274,"M":0.0,"C":-0.35},
{"v":1308,"M":-0.1,"C":-0.25},{"v":1342,"M":-0.05,"C":0.25},{"v":1376,"M":-0.25,"C":0.48},{"v":1410,"M":-0.1,"C":0.85},{"v":1444,"M":0.35,"C":-0.45},
{"v":1478,"M":0.0,"C":0.95},{"v":1512,"M":-0.15,"C":-0.08},{"v":1546,"M":0.8,"C":0.25},{"v":1580,"M":0.35,"C":-0.03},{"v":1614,"M":-0.3,"C":0.35},
{"v":1648,"M":-0.25,"C":0.6},{"v":1682,"M":0.0,"C":1.05},{"v":1716,"M":0.8,"C":-0.03},{"v":1750,"M":0.35,"C":-0.45},{"v":1784,"M":0.8,"C":0.6},
{"v":1818,"M":-1.1,"C":0.1},{"v":1852,"M":0.0,"C":0.2},{"v":1886,"M":0.8,"C":-0.1},{"v":1920,"M":-0.25,"C":0.2},{"v":1954,"M":1.1,"C":0.3},
{"v":1988,"M":-0.5,"C":0.0},{"v":2022,"M":-0.3,"C":0.0},{"v":2056,"M":-1.0,"C":0.2},{"v":2090,"M":-0.8,"C":0.3},{"v":2124,"M":-0.6,"C":0.28},
{"v":2158,"M":-0.6,"C":0.35},{"v":2192,"M":-0.2,"C":0.2},{"v":2226,"M":-0.1,"C":0.1},{"v":2260,"M":-0.1,"C":0.17},{"v":2294,"M":-0.1,"C":0.17}
],
"r":[
{"v":-2430,"R":-0.8},{"v":-2217,"R":-0.135},{"v":-2008,"R":-0.21},{"v":-1796,"R":-0.2},{"v":-1580,"R":-0.8},{"v":-1371,"R":0.21},{"v":-1159,"R":0.27},{"v":-943,"R":0.19},{"v":-726,"R":0.19},{"v":-515,"R":0.59},{"v":-306,"R":0.64},{"v":-89,"R":0.72},{"v":127,"R":0.72},{"v":344,"R":0.7},{"v":548,"R":0.08},{"v":764,"R":-0.09},{"v":968,"R":0.34},{"v":1185,"R":-0.04},{"v":1396,"R":-0.8},{"v":1605,"R":-0.015},{"v":1822,"R":0.2},{"v":2033,"R":-0.8},{"v":2247,"R":0.32},{"v":2460,"R":0.32}
],
"gm":[
{"v":-2265,"y":0},{"v":0,"y":0},{"v":100,"y":0.005},{"v":200,"y":0.039},{"v":250,"y":0.093},{"v":300,"y":0.2},{"v":350,"y":0.386},{"v":400,"y":0.665},{"v":450,"y":1.026},{"v":500,"y":1.416},{"v":550,"y":1.749},{"v":600,"y":1.933},{"v":620,"y":1.95},{"v":650,"y":1.911},{"v":700,"y":1.691},{"v":750,"y":1.339},{"v":800,"y":0.949},{"v":850,"y":0.602},{"v":900,"y":0.342},{"v":950,"y":0.173},{"v":1000,"y":0.079},{"v":1050,"y":0.032},{"v":1100,"y":0.012},{"v":1200,"y":0.001},{"v":2282,"y":0}
],
"gc":[
{"v":-2265,"y":0},{"v":-500,"y":0},{"v":-300,"y":0.002},{"v":-200,"y":0.01},{"v":-100,"y":0.045},{"v":0,"y":0.15},{"v":50,"y":0.249},{"v":100,"y":0.39},{"v":150,"y":0.573},{"v":200,"y":0.791},{"v":250,"y":1.026},{"v":300,"y":1.25},{"v":350,"y":1.431},{"v":400,"y":1.539},{"v":433,"y":1.56},{"v":450,"y":1.554},{"v":500,"y":1.475},{"v":550,"y":1.315},{"v":600,"y":1.101},{"v":650,"y":0.866},{"v":700,"y":0.64},{"v":750,"y":0.444},{"v":800,"y":0.29},{"v":850,"y":0.178},{"v":900,"y":0.102},{"v":1000,"y":0.028},{"v":1100,"y":0.006},{"v":1200,"y":0.001},{"v":2282,"y":0}
]
}
}
